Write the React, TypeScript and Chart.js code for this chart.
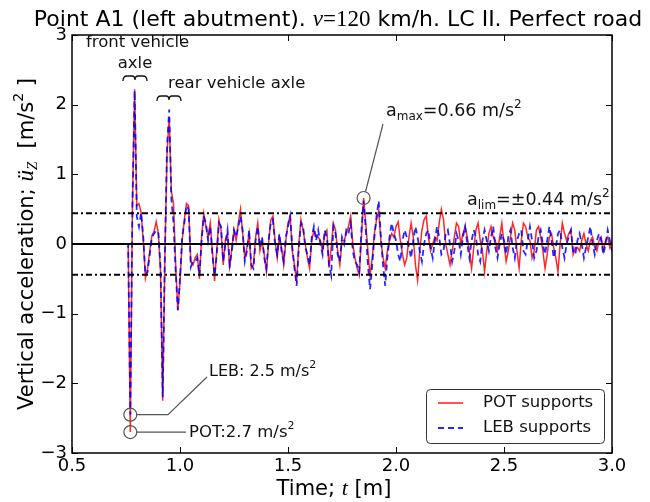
import React, { useEffect, useRef } from "react";
import { Chart, registerables } from "chart.js";

Chart.register(...registerables);

// ---------------- data ----------------
const TIME = [
  0.75, 0.76, 0.77, 0.78, 0.79, 0.8, 0.81, 0.82, 0.83, 0.84,
  0.85, 0.86, 0.87, 0.88, 0.89, 0.9, 0.91, 0.92, 0.93, 0.94,
  0.95, 0.96, 0.97, 0.98, 0.99, 1.0, 1.01, 1.02, 1.03, 1.04,
  1.05, 1.06, 1.07, 1.08, 1.09, 1.1, 1.11, 1.12, 1.13, 1.14,
  1.15, 1.16, 1.17, 1.18, 1.19, 1.2, 1.21, 1.22, 1.23, 1.24,
  1.25, 1.26, 1.27, 1.28, 1.29, 1.3, 1.31, 1.32, 1.33, 1.34,
  1.35, 1.36, 1.37, 1.38, 1.39, 1.4, 1.41, 1.42, 1.43, 1.44,
  1.45, 1.46, 1.47, 1.48, 1.49, 1.5, 1.51, 1.52, 1.53, 1.54,
  1.55, 1.56, 1.57, 1.58, 1.59, 1.6, 1.61, 1.62, 1.63, 1.64,
  1.65, 1.66, 1.67, 1.68, 1.69, 1.7, 1.71, 1.72, 1.73, 1.74,
  1.75, 1.76, 1.77, 1.78, 1.79, 1.8, 1.81, 1.82, 1.83, 1.84,
  1.85, 1.86, 1.87, 1.88, 1.89, 1.9, 1.91, 1.92, 1.93, 1.94,
  1.95, 1.96, 1.97, 1.98, 1.99, 2.0, 2.01, 2.02, 2.03, 2.04,
  2.05, 2.06, 2.07, 2.08, 2.09, 2.1, 2.11, 2.12, 2.13, 2.14,
  2.15, 2.16, 2.17, 2.18, 2.19, 2.2, 2.21, 2.22, 2.23, 2.24,
  2.25, 2.26, 2.27, 2.28, 2.29, 2.3, 2.31, 2.32, 2.33, 2.34,
  2.35, 2.36, 2.37, 2.38, 2.39, 2.4, 2.41, 2.42, 2.43, 2.44,
  2.45, 2.46, 2.47, 2.48, 2.49, 2.5, 2.51, 2.52, 2.53, 2.54,
  2.55, 2.56, 2.57, 2.58, 2.59, 2.6, 2.61, 2.62, 2.63, 2.64,
  2.65, 2.66, 2.67, 2.68, 2.69, 2.7, 2.71, 2.72, 2.73, 2.74,
  2.75, 2.76, 2.77, 2.78, 2.79, 2.8, 2.81, 2.82, 2.83, 2.84,
  2.85, 2.86, 2.87, 2.88, 2.89, 2.9, 2.91, 2.92, 2.93, 2.94,
  2.95, 2.96, 2.97, 2.98, 2.99, 3.0,
];

// POT supports (red, solid)
const POT = [
  0, 0, -2.7, 0.6, 2.22, 0.55, 0.58, 0.45, 0.05, -0.49,
  -0.35, -0.1, 0.12, 0.18, 0.32, 0.15, -0.4, -2.25, -0.2, 1.3,
  1.82, 0.75, 0.58, -0.3, -0.95, -0.55, 0.05, 0.35, 0.58, 0.55,
  -0.25, -0.3, -0.2, -0.15, -0.5, 0.1, 0.44, 0.25, 0.1, 0.3,
  -0.1, -0.53, -0.1, 0.35, 0.2, -0.3, 0.05, 0.15, -0.35, -0.05,
  0.2, 0.05, 0.3, 0.5, 0.15, -0.2, -0.05, 0.15, -0.35, -0.3,
  0.1, 0.3, -0.1, 0.05, -0.15, -0.4, 0.0, 0.34, 0.4, 0.05,
  -0.2, 0.1, -0.05, -0.3, 0.05, 0.3, 0.4, -0.1, -0.3, -0.55,
  0.0, 0.35, 0.2, 0.0, -0.2, -0.35, 0.05, 0.2, 0.1, 0.1,
  0.05, -0.1, 0.15, 0.2, -0.34, -0.05, 0.3, 0.2, -0.1, -0.3,
  0.05, 0.05, 0.15, 0.25, 0.4, 0.0, -0.2, -0.35, -0.45, 0.1,
  0.66, 0.3, -0.1, -0.45, -0.2, 0.15, 0.35, 0.48, 0.05, -0.2,
  -0.35, -0.1, 0.05, 0.15, 0.1, 0.25, 0.32, 0.05, -0.15, -0.3,
  -0.2, 0.1, 0.3, 0.1, -0.3, -0.52, -0.1, 0.2, 0.35, 0.4,
  0.1, -0.1, 0.0, 0.1, 0.05, 0.3, 0.5, 0.35, 0.0, -0.15,
  -0.3, -0.1, 0.1, 0.3, 0.25, 0.0, 0.15, 0.25, 0.1, -0.1,
  -0.35, -0.05, 0.2, 0.3, 0.05, -0.1, -0.4, -0.1, 0.15, 0.25,
  0.1, 0.05, -0.1, 0.1, 0.3, 0.0, -0.25, -0.1, 0.1, 0.3,
  0.2, -0.1, -0.35, 0.05, 0.3, 0.25, 0.1, 0.05, -0.2, -0.1,
  0.2, 0.25, 0.1, -0.1, -0.35, -0.15, 0.1, 0.15, -0.05, -0.2,
  -0.4, 0.0, 0.3, 0.15, 0.05, 0.15, 0.2, -0.15, -0.05, -0.05,
  -0.1, 0.05, 0.15, 0.0, -0.1, 0.05, 0.1, -0.05, -0.1, 0.05,
  0.1, -0.1, 0.05, 0.1, -0.05, 0.05,
];

// LEB supports (blue, dashed)
const LEB = [
  0, 0, -2.45, 0.6, 2.2, 0.4, 0.25, 0.45, 0.1, -0.45,
  -0.4, -0.15, 0.1, 0.15, 0.2, 0.15, -0.35, -2.2, -0.15, 1.4,
  1.93, 0.65, 0.3, -0.4, -0.95, -0.5, 0.1, 0.3, 0.55, 0.5,
  -0.33, -0.25, -0.25, -0.2, -0.45, 0.05, 0.4, 0.3, 0.05, 0.25,
  -0.15, -0.45, -0.15, 0.3, 0.25, -0.25, 0.0, 0.2, -0.3, -0.1,
  0.2, 0.1, 0.25, 0.4, 0.2, -0.25, -0.1, 0.2, -0.3, -0.35,
  0.05, 0.25, -0.05, 0.1, -0.2, -0.35, 0.05, 0.3, 0.35, 0.0,
  -0.15, 0.15, -0.1, -0.25, 0.1, 0.25, 0.4, -0.05, -0.35, -0.6,
  -0.05, 0.3, 0.25, -0.05, -0.15, -0.3, 0.1, 0.25, 0.05, 0.2,
  0.0, -0.15, 0.2, 0.1, -0.3, -0.45, 0.25, 0.15, -0.15, -0.25,
  0.1, 0.0, 0.2, 0.15, 0.3, -0.1, -0.25, -0.3, -0.4, 0.2,
  0.62, 0.2, -0.3, -0.65, -0.3, 0.1, 0.4, 0.62, 0.1, -0.3,
  -0.6, -0.2, 0.1, 0.3, 0.15, 0.05, -0.15, -0.25, 0.05, 0.2,
  0.1, -0.05, -0.2, 0.05, 0.25, 0.1, -0.1, -0.25, 0.0, 0.15,
  0.2, -0.05, -0.2, 0.05, 0.25, 0.1, -0.15, -0.1, 0.15, 0.2,
  0.0, -0.25, -0.1, 0.15, 0.05, -0.15, 0.1, 0.25, 0.0, -0.2,
  0.05, 0.2, 0.1, -0.15, -0.25, 0.05, 0.2, 0.05, -0.1, 0.1,
  0.25, -0.05, -0.2, 0.0, 0.15, 0.05, -0.15, 0.1, 0.2, -0.05,
  -0.2, 0.05, 0.15, 0.2, -0.1, -0.15, 0.05, 0.25, 0.05, -0.2,
  -0.1, 0.1, 0.2, 0.0, -0.15, 0.05, 0.25, 0.05, -0.2, -0.05,
  0.15, 0.2, -0.05, -0.2, 0.0, 0.1, 0.2, -0.1, -0.15, 0.05,
  0.15, 0.0, -0.2, -0.05, 0.1, 0.25, 0.0, -0.15, 0.05, 0.15,
  0.05, -0.15, 0.0, 0.2, 0.05, -0.1,
];

const X_TICKS = [0.5, 1.0, 1.5, 2.0, 2.5, 3.0];
const Y_TICKS = [-3, -2, -1, 0, 1, 2, 3];
const A_LIM = 0.44;
const A_MAX_POINT = [1.85, 0.66];
const LEB_MIN_POINT = [0.77, -2.45];
const POT_MIN_POINT = [0.77, -2.7];
const SERIES_LABELS = ["POT supports", "LEB supports"];

// ---------------- styling ----------------
const SANS = '"DejaVu Sans", "Bitstream Vera Sans", sans-serif';
const SERIF = '"Liberation Serif", "DejaVu Serif", serif';
const RED = "rgba(255,0,0,0.85)";
const BLUE = "rgba(0,0,255,0.85)";

type Seg = { t: string; f: string; dy?: number };

function rich(ctx: CanvasRenderingContext2D, segs: Seg[], x: number, y: number, align: "left" | "center") {
  ctx.textBaseline = "alphabetic";
  ctx.textAlign = "left";
  let w = 0;
  for (const s of segs) {
    ctx.font = s.f;
    w += ctx.measureText(s.t).width;
  }
  let cx = align === "center" ? x - w / 2 : x;
  for (const s of segs) {
    ctx.font = s.f;
    ctx.fillText(s.t, cx, y + (s.dy || 0));
    cx += ctx.measureText(s.t).width;
  }
}

function brace(ctx: CanvasRenderingContext2D, x0: number, x1: number, y: number) {
  const xc = (x0 + x1) / 2;
  ctx.beginPath();
  ctx.moveTo(x0, y + 5);
  ctx.quadraticCurveTo(x0, y, x0 + 4, y);
  ctx.lineTo(xc - 3, y);
  ctx.quadraticCurveTo(xc, y, xc, y + 4);
  ctx.quadraticCurveTo(xc, y, xc + 3, y);
  ctx.lineTo(x1 - 4, y);
  ctx.quadraticCurveTo(x1, y, x1, y + 5);
  ctx.stroke();
}

const decoPlugin = {
  id: "deco",
  afterDatasetsDraw(chart: any) {
    const { ctx, chartArea: a, scales } = chart;
    const y = scales.y;
    ctx.save();
    ctx.strokeStyle = "#000";
    ctx.lineWidth = 2;
    ctx.setLineDash([]);
    const y0 = y.getPixelForValue(0);
    ctx.beginPath();
    ctx.moveTo(a.left, y0);
    ctx.lineTo(a.right, y0);
    ctx.stroke();
    ctx.setLineDash([6, 3, 2, 3]);
    for (const v of [A_LIM, -A_LIM]) {
      const py = y.getPixelForValue(v);
      ctx.beginPath();
      ctx.moveTo(a.left, py);
      ctx.lineTo(a.right, py);
      ctx.stroke();
    }
    ctx.restore();
  },
  afterDraw(chart: any) {
    const { ctx, chartArea: a, scales } = chart;
    const xs = scales.x;
    const ys = scales.y;
    ctx.save();
    ctx.setLineDash([]);

    // frame
    ctx.strokeStyle = "#000";
    ctx.lineWidth = 1.5;
    ctx.strokeRect(a.left, a.top, a.right - a.left, a.bottom - a.top);

    // inner ticks
    ctx.lineWidth = 1;
    ctx.beginPath();
    for (const v of X_TICKS) {
      const px = Math.round(xs.getPixelForValue(v)) + 0.5;
      ctx.moveTo(px, a.bottom);
      ctx.lineTo(px, a.bottom - 6);
      ctx.moveTo(px, a.top);
      ctx.lineTo(px, a.top + 6);
    }
    for (const v of Y_TICKS) {
      const py = Math.round(ys.getPixelForValue(v)) + 0.5;
      ctx.moveTo(a.left, py);
      ctx.lineTo(a.left + 6, py);
      ctx.moveTo(a.right, py);
      ctx.lineTo(a.right - 6, py);
    }
    ctx.stroke();

    ctx.fillStyle = "#000";
    // title
    rich(
      ctx,
      [
        { t: "Point A1 (left abutment). ", f: `22px ${SANS}` },
        { t: "v", f: `italic 23px ${SERIF}` },
        { t: "=", f: `23px ${SERIF}` },
        { t: "120", f: `23px ${SERIF}` },
        { t: " km/h. LC II. Perfect road", f: `22px ${SANS}` },
      ],
      338,
      26,
      "center"
    );

    // x axis title
    rich(
      ctx,
      [
        { t: "Time; ", f: `21px ${SANS}` },
        { t: "t", f: `italic 22px ${SERIF}` },
        { t: " [m]", f: `21px ${SANS}` },
      ],
      334,
      495,
      "center"
    );

    // y axis title (rotated)
    ctx.save();
    ctx.translate(33, 244);
    ctx.rotate(-Math.PI / 2);
    rich(
      ctx,
      [
        { t: "Vertical acceleration; ", f: `21px ${SANS}` },
        { t: "ü", f: `italic 23px ${SERIF}` },
        { t: "Z", f: `italic 15px ${SERIF}`, dy: 4 },
        { t: "  [m/s", f: `21px ${SANS}` },
        { t: "2", f: `14px ${SANS}`, dy: -10 },
        { t: " ]", f: `21px ${SANS}` },
      ],
      0,
      0,
      "center"
    );
    ctx.restore();

    // axle annotations
    ctx.fillStyle = "#111";
    rich(ctx, [{ t: "front vehicle", f: `16.5px ${SANS}` }], 86, 47, "left");
    rich(ctx, [{ t: "axle", f: `16.5px ${SANS}` }], 135, 68, "center");
    rich(ctx, [{ t: "rear vehicle axle", f: `16.5px ${SANS}` }], 168, 88, "left");
    ctx.strokeStyle = "#111";
    ctx.lineWidth = 1.3;
    brace(ctx, 123, 147, 76);
    brace(ctx, 157, 181, 96);

    // a_lim label
    rich(
      ctx,
      [
        { t: "a", f: `17.5px ${SANS}` },
        { t: "lim", f: `12px ${SANS}`, dy: 4 },
        { t: "=\u00B10.44 m/s", f: `17.5px ${SANS}` },
        { t: "2", f: `12px ${SANS}`, dy: -8 },
      ],
      467,
      205,
      "left"
    );

    // circles + leaders
    ctx.strokeStyle = "#555";
    ctx.lineWidth = 1.2;
    const circ = (p: number[]) => {
      const cx = xs.getPixelForValue(p[0]);
      const cy = ys.getPixelForValue(p[1]);
      ctx.beginPath();
      ctx.arc(cx, cy, 6.5, 0, Math.PI * 2);
      ctx.stroke();
      return [cx, cy];
    };
    const [mx, my] = circ(A_MAX_POINT);
    ctx.beginPath();
    ctx.moveTo(mx + 2, my - 6.5);
    ctx.lineTo(383, 124);
    ctx.stroke();
    rich(
      ctx,
      [
        { t: "a", f: `17.5px ${SANS}` },
        { t: "max", f: `12px ${SANS}`, dy: 4 },
        { t: "=0.66 m/s", f: `17.5px ${SANS}` },
        { t: "2", f: `12px ${SANS}`, dy: -8 },
      ],
      386,
      116,
      "left"
    );

    const [lx, ly] = circ(LEB_MIN_POINT);
    ctx.beginPath();
    ctx.moveTo(lx + 6.5, ly);
    ctx.lineTo(168, ly);
    ctx.lineTo(207, 377);
    ctx.stroke();
    rich(
      ctx,
      [
        { t: "LEB: 2.5 m/s", f: `16px ${SANS}` },
        { t: "2", f: `11px ${SANS}`, dy: -8 },
      ],
      209,
      376,
      "left"
    );

    const [px, py] = circ(POT_MIN_POINT);
    ctx.beginPath();
    ctx.moveTo(px + 6.5, py);
    ctx.lineTo(186, py);
    ctx.stroke();
    rich(
      ctx,
      [
        { t: "POT:2.7 m/s", f: `16.5px ${SANS}` },
        { t: "2", f: `11px ${SANS}`, dy: -8 },
      ],
      189,
      437,
      "left"
    );

    // legend
    ctx.fillStyle = "#fff";
    ctx.strokeStyle = "#333";
    ctx.lineWidth = 1;
    ctx.beginPath();
    (ctx as any).roundRect(426.5, 389.5, 178, 54, 4);
    ctx.fill();
    ctx.stroke();
    ctx.lineWidth = 1.6;
    ctx.strokeStyle = RED;
    ctx.beginPath();
    ctx.moveTo(438, 403);
    ctx.lineTo(463, 403);
    ctx.stroke();
    ctx.strokeStyle = BLUE;
    ctx.lineWidth = 1.8;
    ctx.setLineDash([6, 4]);
    ctx.beginPath();
    ctx.moveTo(438, 428);
    ctx.lineTo(463, 428);
    ctx.stroke();
    ctx.setLineDash([]);
    ctx.fillStyle = "#111";
    ctx.font = `16.5px ${SANS}`;
    ctx.textBaseline = "middle";
    ctx.fillText(SERIES_LABELS[0], 483, 403);
    ctx.fillText(SERIES_LABELS[1], 483, 428);

    ctx.restore();
  },
};

export default function App() {
  const ref = useRef<HTMLCanvasElement | null>(null);

  useEffect(() => {
    document.body.style.margin = "0";
    const canvas = ref.current;
    if (!canvas) return;
    const chart = new Chart(canvas, {
      type: "line",
      data: {
        datasets: [
          {
            label: SERIES_LABELS[1],
            data: TIME.map((t, i) => ({ x: t, y: LEB[i] })),
            borderColor: BLUE,
            borderWidth: 1.8,
            borderDash: [6, 4],
            pointRadius: 0,
            tension: 0,
            fill: false,
          },
          {
            label: SERIES_LABELS[0],
            data: TIME.map((t, i) => ({ x: t, y: POT[i] })),
            borderColor: RED,
            borderWidth: 1.5,
            pointRadius: 0,
            tension: 0,
            fill: false,
          },
        ],
      },
      options: {
        responsive: false,
        animation: false,
        events: [],
        layout: { padding: { top: 35, right: 38, left: 0, bottom: 0 } },
        plugins: {
          legend: { display: false },
          title: { display: false },
          tooltip: { enabled: false },
        },
        scales: {
          x: {
            type: "linear",
            min: 0.5,
            max: 3.0,
            grid: { display: false, drawTicks: false },
            border: { display: false },
            afterBuildTicks: (s: any) => {
              s.ticks = X_TICKS.map((v) => ({ value: v }));
            },
            afterFit: (s: any) => {
              s.height = 49;
            },
            ticks: {
              color: "#000",
              font: { family: SANS, size: 18 },
              padding: 3,
              maxRotation: 0,
              autoSkip: false,
              callback: (v: any) => Number(v).toFixed(1),
            },
          },
          y: {
            type: "linear",
            min: -3,
            max: 3,
            grid: { display: false, drawTicks: false },
            border: { display: false },
            afterBuildTicks: (s: any) => {
              s.ticks = Y_TICKS.map((v) => ({ value: v }));
            },
            afterFit: (s: any) => {
              s.width = 72;
            },
            ticks: {
              color: "#000",
              font: { family: SANS, size: 18 },
              padding: 5,
              autoSkip: false,
              callback: (v: any) => (Number(v) < 0 ? "\u2212" + Math.abs(Number(v)) : String(v)),
            },
          },
        },
      },
      plugins: [decoPlugin],
    });
    return () => chart.destroy();
  }, []);

  return (
    <div style={{ position: "absolute", left: 0, top: 0, width: 650, height: 502, background: "#fff" }}>
      <canvas ref={ref} width={650} height={502} />
    </div>
  );
}
